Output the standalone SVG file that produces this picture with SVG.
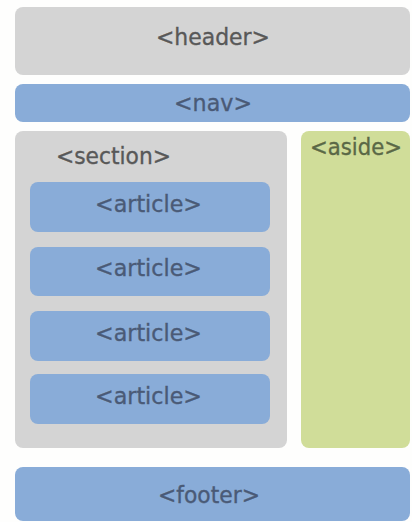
<svg xmlns="http://www.w3.org/2000/svg" width="412" height="522" viewBox="0 0 412 522">
<style>
.gray{fill:#d4d4d4}
.blue{fill:#89acd8}
.green{fill:#d0dd99}
text{font-family:"DejaVu Sans","Liberation Sans",sans-serif;font-size:22.5px;text-anchor:middle;stroke-width:0.35px}
.tg{fill:#585858;stroke:#585858}
.tb{fill:#4a5a76;stroke:#4a5a76}
.tgr{fill:#5a6846;stroke:#5a6846}
</style>
<rect width="412" height="522" fill="#fefefd"/>
<g id="header"><rect class="gray" x="15" y="7" width="395" height="68" rx="8"/><text class="tg" x="213" y="45" textLength="114" lengthAdjust="spacingAndGlyphs">&lt;header&gt;</text></g>
<g id="nav"><rect class="blue" x="15" y="84" width="395" height="38" rx="8"/><text class="tb" x="213" y="111" textLength="78" lengthAdjust="spacingAndGlyphs">&lt;nav&gt;</text></g>
<g id="section"><rect class="gray" x="15" y="131" width="272" height="317" rx="8"/><text class="tg" x="113.5" y="164" textLength="115" lengthAdjust="spacingAndGlyphs">&lt;section&gt;</text></g>
<g id="aside"><rect class="green" x="301" y="131" width="109" height="317" rx="8"/><text class="tgr" x="356" y="155" textLength="92" lengthAdjust="spacingAndGlyphs">&lt;aside&gt;</text></g>
<g id="article1"><rect class="blue" x="30" y="182" width="240" height="50" rx="8"/><text class="tb" x="148.5" y="212" textLength="107" lengthAdjust="spacingAndGlyphs">&lt;article&gt;</text></g>
<g id="article2"><rect class="blue" x="30" y="247" width="240" height="49" rx="8"/><text class="tb" x="148.5" y="276" textLength="107" lengthAdjust="spacingAndGlyphs">&lt;article&gt;</text></g>
<g id="article3"><rect class="blue" x="30" y="311" width="240" height="50" rx="8"/><text class="tb" x="148.5" y="341" textLength="107" lengthAdjust="spacingAndGlyphs">&lt;article&gt;</text></g>
<g id="article4"><rect class="blue" x="30" y="374" width="240" height="50" rx="8"/><text class="tb" x="148.5" y="404" textLength="107" lengthAdjust="spacingAndGlyphs">&lt;article&gt;</text></g>
<g id="footer"><rect class="blue" x="15" y="467" width="395" height="54" rx="8"/><text class="tb" x="209" y="503" textLength="102" lengthAdjust="spacingAndGlyphs">&lt;footer&gt;</text></g>
<g id="connectors"/>
</svg>
